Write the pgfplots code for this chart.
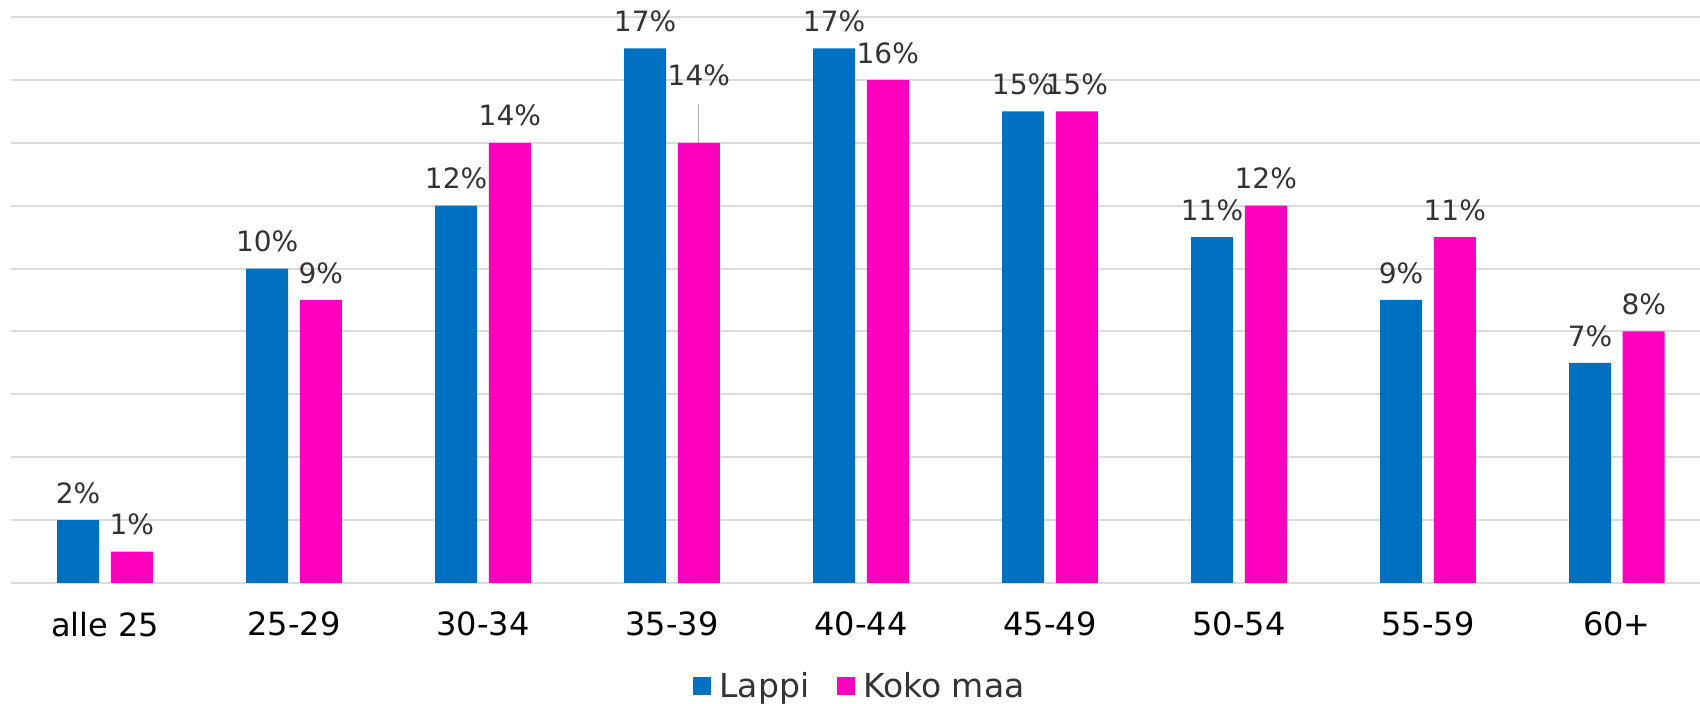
\documentclass[border=0pt]{standalone}
\usepackage{pgfplots}
\usepackage{pgfplotstable}
\pgfplotsset{compat=1.18}
\usepackage{fontspec}
\setmainfont{DejaVu Sans}
\definecolor{lappi}{HTML}{0070C0}
\definecolor{koko}{HTML}{FF00BF}
\definecolor{gridc}{HTML}{DCDCDF}
\definecolor{lbl}{HTML}{333333}

\pgfplotstableread{
x y off
0 2 0
1 10 0
2 12 0
3 17 0
4 17 0
5 15 0
6 11 0
7 9 0
8 7 0
}\lappi

\pgfplotstableread{
x y off
0 1 0
1 9 0
2 14 0
3 14 20.3
4 16 0
5 15 0
6 12 0
7 11 0
8 8 0
}\koko

\begin{document}
\begin{tikzpicture}
\path[use as bounding box] (-5.25pt,-60.5pt) rectangle (844.75pt,291.5pt);
\begin{axis}[
  at={(0,0)}, anchor=south west,
  scale only axis,
  width=844.75pt, height=283pt,
  xmin=-0.5, xmax=8.44,
  ymin=0, ymax=18,
  ytick={0,2,...,18},
  yticklabels={},
  xtick={0,...,8},
  xticklabels={alle 25,25-29,30-34,35-39,40-44,45-49,50-54,55-59,60+},
  xticklabel style={font=\fontsize{16}{19}\selectfont, text=black, yshift=-11pt},
  major tick length=0pt,
  axis line style={draw=none},
  ymajorgrids,
  grid style={gridc, line width=1pt},
  ybar,
  bar width=21pt,
  /pgf/number format/assume math mode=true,
  nodes near coords={\pgfmathprintnumber{\pgfplotspointmeta}\%},
  point meta=y,
  nodes near coords style={font=\fontsize{14}{17}\selectfont, text=lbl, anchor=south, inner sep=0pt, yshift=8pt},
  visualization depends on={\thisrow{off}\as\labeloff},
  legend style={at={(0.5034,-0.182)}, anchor=center, draw=none, fill=none,
    legend columns=-1, font=\fontsize{16.5}{19}\selectfont, text=lbl,
    /tikz/every even column/.append style={column sep=12pt}},
  legend image code/.code={\fill[#1] (0pt,-4.5pt) rectangle (9pt,4.5pt); \path (9pt,0pt) -- (11pt,0pt);},
  clip=false,
]
\addplot[fill=lappi, draw=none, bar shift=0pt] table[x expr=\thisrow{x}-0.14212, y=y] {\lappi};
\addplot[fill=koko, draw=none, bar shift=0pt, every node near coord/.append style={yshift=\labeloff pt}] table[x expr=\thisrow{x}+0.14212, y=y] {\koko};
\legend{Lappi, Koko maa}
\draw[gray!60, line width=0.6pt] (axis cs:3.14212,14) -- ++(0pt,19.3pt);
\end{axis}
\end{tikzpicture}
\end{document}
